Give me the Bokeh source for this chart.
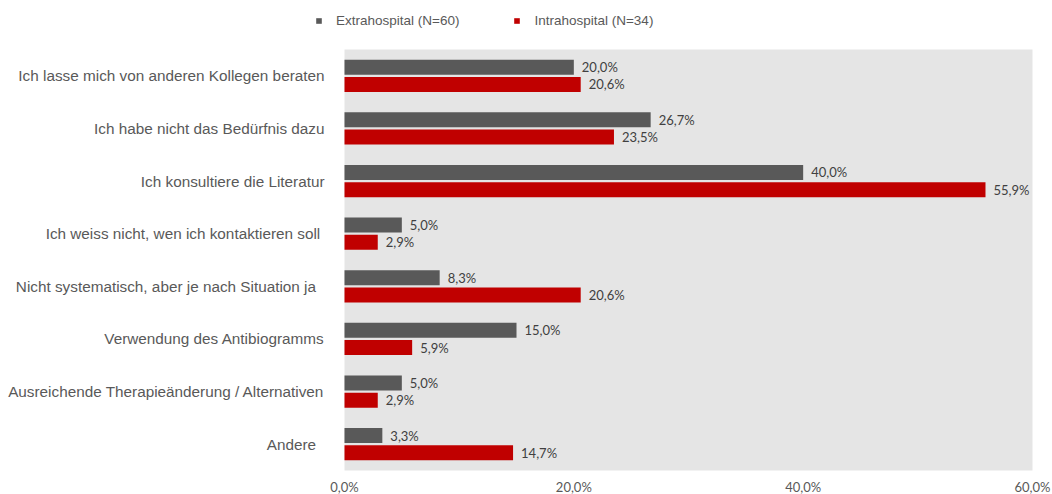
from bokeh.plotting import figure
from bokeh.models import Range1d, Legend, LegendItem, ColumnDataSource
from bokeh.core.properties import value
from bokeh.embed import file_html
from bokeh.resources import INLINE

categories = [
    "Ich lasse mich von anderen Kollegen beraten",
    "Ich habe nicht das Bedürfnis dazu",
    "Ich konsultiere die Literatur",
    "Ich weiss nicht, wen ich kontaktieren soll ",
    "Nicht systematisch, aber je nach Situation ja  ",
    "Verwendung des Antibiogramms",
    "Ausreichende Therapieänderung / Alternativen",
    "Andere  ",
]
extra = [20.0, 26.7, 40.0, 5.0, 8.3, 15.0, 5.0, 3.3]
intra = [20.6, 23.5, 55.9, 2.9, 20.6, 5.9, 2.9, 14.7]
x_ticks = [0, 20, 40, 60]
x_tick_labels = ["0,0%", "20,0%", "40,0%", "60,0%"]
series_names = ["Extrahospital (N=60)", "Intrahospital (N=34)"]
colors = ["#595959", "#C00000"]


def fmt(v):
    return f"{v:.1f}".replace(".", ",") + "%"


n = len(categories)
pos = [i + 0.5 for i in range(n)]
off = 0.163
bh = 0.285

src = ColumnDataSource(dict(
    cat=categories,
    y_extra=[y - off for y in pos],
    y_intra=[y + off for y in pos],
    y_cat=pos,
    extra=extra,
    intra=intra,
    extra_lbl=[fmt(v) for v in extra],
    intra_lbl=[fmt(v) for v in intra],
    zero=[0] * n,
))
tick_src = ColumnDataSource(dict(
    x=x_ticks, y=[n] * len(x_ticks), lbl=x_tick_labels,
))

# The frame spans the whole canvas (legend and labels sit inside it);
# the grey plotting area is drawn as a quad over the data bounds.
p = figure(
    width=1052, height=494,
    x_range=Range1d(-30.0, x_ticks[-1] + 1.744),
    y_range=Range1d(n + 0.456, -0.931),
    output_backend="svg", toolbar_location=None,
    min_border_left=0, min_border_right=0,
    min_border_top=0, min_border_bottom=0,
)
p.background_fill_color = "white"
p.border_fill_color = "white"
p.outline_line_color = None
p.xgrid.grid_line_color = None
p.ygrid.grid_line_color = None
p.xaxis.visible = False
p.yaxis.visible = False

p.quad(left=x_ticks[0], right=x_ticks[-1], top=0, bottom=n,
       fill_color="#E5E5E5", line_color=None)

r1 = p.hbar(y="y_extra", left="zero", right="extra", height=bh,
            source=src, fill_color=colors[0], line_color=None)
r2 = p.hbar(y="y_intra", left="zero", right="intra", height=bh,
            source=src, fill_color=colors[1], line_color=None)

p.text(x="extra", y="y_extra", text="extra_lbl", source=src,
       x_offset=8, text_baseline="middle", text_align="left",
       text_font=value("Lato"), text_font_size="13px", text_color="#404040")
p.text(x="intra", y="y_intra", text="intra_lbl", source=src,
       x_offset=8, text_baseline="middle", text_align="left",
       text_font=value("Lato"), text_font_size="13px", text_color="#404040")

# category labels (right aligned, left of the plotting area)
p.text(x="zero", y="y_cat", text="cat", source=src,
       x_offset=-20, text_baseline="middle", text_align="right",
       text_font=value("Liberation Sans"), text_font_size="15.3px",
       text_color="#595959")

# x tick labels under the plotting area
p.text(x="x", y="y", text="lbl", source=tick_src,
       y_offset=16, text_baseline="middle", text_align="center",
       text_font=value("Lato"), text_font_size="13px", text_color="#595959")

legend = Legend(
    items=[LegendItem(label=series_names[0], renderers=[r1]),
           LegendItem(label=series_names[1], renderers=[r2])],
    orientation="horizontal",
    location=(315, 466),
    glyph_width=7, glyph_height=7, label_height=7,
    label_standoff=14, spacing=54, padding=0, margin=0,
    border_line_color=None, background_fill_alpha=0,
    label_text_font="Liberation Sans", label_text_font_size="13.5px",
    label_text_color="#595959", label_text_baseline="middle",
)
p.add_layout(legend)

open("out.html", "w").write(file_html(p, INLINE))
